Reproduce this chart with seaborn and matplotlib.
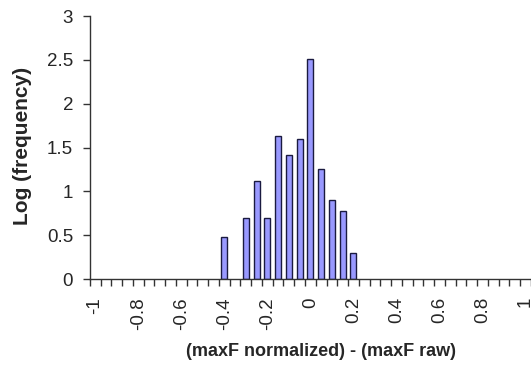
import numpy as np
import pandas as pd
import matplotlib
matplotlib.use("Agg")
import matplotlib.pyplot as plt
import seaborn as sns

# --- data: log10 frequency per bin of (maxF normalized) - (maxF raw) ---
bin_centers = [-0.4, -0.3, -0.25, -0.2, -0.15, -0.1, -0.05, 0.0, 0.05, 0.1, 0.15, 0.2]
log_freq = [0.477, 0.699, 1.114, 0.699, 1.633, 1.415, 1.602, 2.51, 1.255, 0.903, 0.778, 0.301]

# all category bins from -1 to 1 in 0.05 steps (Excel-style category axis)
all_bins = [round(-1 + 0.05 * i, 2) for i in range(41)]
tick_values = [-1, -0.8, -0.6, -0.4, -0.2, 0, 0.2, 0.4, 0.6, 0.8, 1]
y_ticks = [0, 0.5, 1, 1.5, 2, 2.5, 3]

def fmt(v):
    return f"{v:g}"

order = [fmt(b) for b in all_bins]
df = pd.DataFrame({"bin": [fmt(b) for b in bin_centers], "logf": log_freq})

sns.set_style("ticks")
plt.rcParams["font.family"] = ["Liberation Sans", "DejaVu Sans"]

fig = plt.figure(figsize=(5.31, 3.74), dpi=100)
ax = fig.add_axes([0.169, 0.254, 0.831, 0.703])

sns.barplot(data=df, x="bin", y="logf", order=order, width=0.55,
            color="#9999ff", edgecolor="#1a1a40", linewidth=1.0,
            saturation=1, ax=ax)

ax.set_xlim(-0.5, len(order) - 0.5)
ax.set_ylim(0, 3)
ax.set_yticks(y_ticks)
ax.set_yticklabels([fmt(v) for v in y_ticks], fontsize=13.5)

# labels every 0.2, tick marks between categories
label_pos = [order.index(fmt(v)) for v in tick_values]
ax.set_xticks(label_pos)
ax.set_xticklabels([fmt(v) for v in tick_values], rotation=90, fontsize=13.5)
ax.tick_params(axis="x", which="major", length=0, pad=13)
ax.set_xticks(np.arange(-0.5, len(order), 1.0), minor=True)
ax.tick_params(axis="x", which="minor", length=5, width=1, color="#333333", direction="out")
ax.tick_params(axis="y", length=5, width=1, color="#333333", direction="out", pad=7)

for s in ["top", "right"]:
    ax.spines[s].set_visible(False)
for s in ["left", "bottom"]:
    ax.spines[s].set_color("#333333")
    ax.spines[s].set_linewidth(1.0)

ax.set_xlabel("(maxF normalized) - (maxF raw)", fontsize=13, fontweight="bold")
ax.set_ylabel("Log (frequency)", fontsize=15, fontweight="bold")
ax.xaxis.set_label_coords((321 - 90) / 441, -(343 - 279) / 263)
ax.yaxis.set_label_coords(-(90 - 32) / 441, (279 - 146) / 263)

fig.savefig("out.png", dpi=100)
